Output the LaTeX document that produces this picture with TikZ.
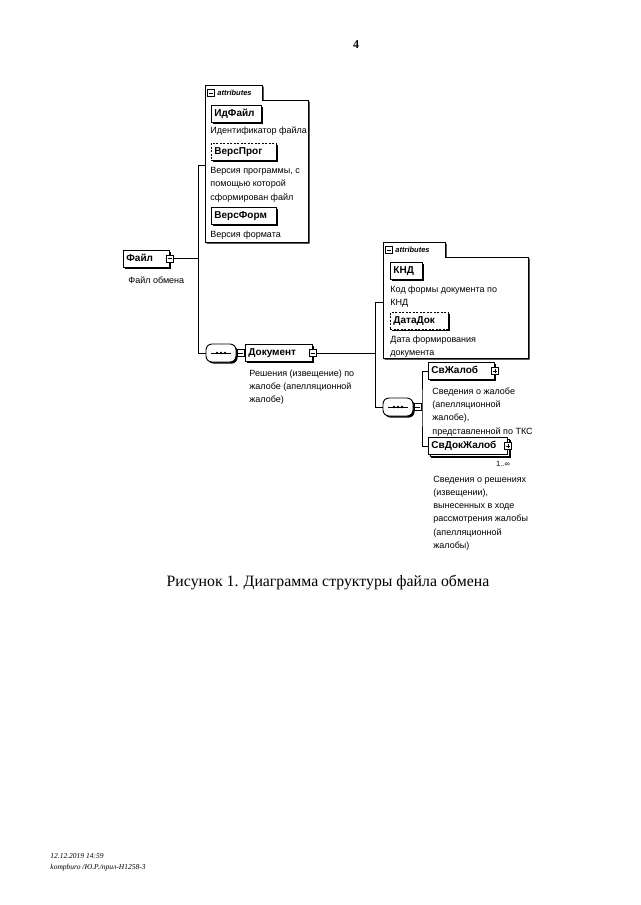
\documentclass[tikz,border=0pt]{standalone}
\usepackage{fontspec}
\setmainfont{Liberation Serif}
\setsansfont{Liberation Sans}
\usetikzlibrary{shadows}
\begin{document}
\begin{tikzpicture}[x=1pt,y=-1pt,line width=0.9pt]
  \tikzstyle{shd}=[drop shadow={shadow xshift=1.6pt,shadow yshift=-1.6pt,fill=black,opacity=1}]
  \tikzstyle{elem}=[draw,fill=white,shd,anchor=west,inner xsep=3pt,inner ysep=0pt,minimum height=17pt,
    text width=#1,text height=7.6pt,text depth=2.4pt,align=left,font=\sffamily\bfseries\fontsize{10}{11}\selectfont]
  \tikzstyle{opt}=[dashed,dash pattern=on 2pt off 1.5pt]
  \tikzstyle{desc}=[anchor=north west,inner sep=0pt,align=left,font=\sffamily\fontsize{9}{13.2}\selectfont]
  \tikzstyle{sgnminus}=[draw,fill=white,inner sep=0pt,minimum size=7pt,line width=0.7pt,
    path picture={\draw[line width=0.6pt] ([xshift=1.4pt]path picture bounding box.west) -- ([xshift=-1.4pt]path picture bounding box.east);}]
  \tikzstyle{sgnplus}=[sgnminus,
    path picture={\draw[line width=0.6pt] ([xshift=1.4pt]path picture bounding box.west) -- ([xshift=-1.4pt]path picture bounding box.east);
      \draw[line width=0.6pt] ([yshift=-1.4pt]path picture bounding box.north) -- ([yshift=1.4pt]path picture bounding box.south);}]
  \tikzstyle{seqsym}=[draw,fill=white,shd,rounded corners=6pt,minimum width=30pt,minimum height=18pt,inner sep=0pt]
  \tikzstyle{attrtab}=[font=\sffamily\bfseries\itshape\fontsize{7.5}{8}\selectfont,anchor=west,inner sep=0pt]

  \useasboundingbox[fill=white] (0,0) rectangle (640,905);

  % page number
  \node[font=\bfseries\fontsize{12}{14}\selectfont] (pagenum) at (356,45) {4};

  % attributes of Файл
  \draw[fill=white,shd] (205,242) -- (205,85) -- (262,85) -- (262,100) -- (308,100) -- (308,242) -- cycle;
  \node[sgnminus] (tabA-s) at (211,93) {};
  \node[attrtab] (tabA) at (217,93) {attributes};
  \node[elem=44pt] (idfajl) at (211,114) {ИдФайл};
  \node[desc] (idfajl-d) at (210,126.5) {Идентификатор файла};
  \node[elem=59pt,opt] (versprog) at (211,151.5) {ВерсПрог};
  \node[desc] (versprog-d) at (210,167) {Версия программы, с\\помощью которой\\сформирован файл};
  \node[elem=59pt] (versform) at (211,215.5) {ВерсФорм};
  \node[desc] (versform-d) at (210,230.5) {Версия формата};
  \coordinate (attrA) at (205,165);

  % Файл
  \node[elem=40pt] (fajl) at (123,258.5) {Файл};
  \node[sgnminus] (fajl-s) at (fajl.east) {};
  \node[desc] (fajl-d) at (128,276.5) {Файл обмена};

  % sequence -> Документ
  \node[seqsym] (seqA) at (221,353) {};
  \node[sgnminus] (seqA-s) at ([xshift=4pt]seqA.east) {};
  \node[elem=61pt] (dokument) at (245,353) {Документ};
  \node[sgnminus] (dokument-s) at (dokument.east) {};
  \node[desc] (dokument-d) at (249,369.5) {Решения (извещение) по\\жалобе (апелляционной\\жалобе)};

  % attributes of Документ
  \draw[fill=white,shd] (383,358) -- (383,242) -- (445,242) -- (445,257) -- (528,257) -- (528,358) -- cycle;
  \node[sgnminus] (tabB-s) at (389,250) {};
  \node[attrtab] (tabB) at (395,250) {attributes};
  \node[elem=26pt] (knd) at (390,271) {КНД};
  \node[desc] (knd-d) at (390,285.5) {Код формы документа по\\КНД};
  \node[elem=52pt,opt] (datadok) at (390,321) {ДатаДок};
  \node[desc] (datadok-d) at (390,335.5) {Дата формирования\\документа};
  \coordinate (attrB) at (383,302);

  % sequence -> СвЖалоб, СвДокЖалоб
  \node[seqsym] (seqB) at (398,407) {};
  \node[sgnminus] (seqB-s) at ([xshift=4pt]seqB.east) {};
  \node[elem=60pt] (svzhalob) at (428,371) {СвЖалоб};
  \node[sgnplus] (svzhalob-s) at (svzhalob.east) {};
  \node[desc] (svzhalob-d) at (432,387.5) {Сведения о жалобе\\(апелляционной\\жалобе),\\представленной по ТКС};
  \node[elem=73pt,double copy shadow={shadow xshift=1.6pt,shadow yshift=-1.6pt,fill=white,draw=black}] (svdokzhalob) at (428,446) {СвДокЖалоб};
  \node[sgnplus] (svdokzhalob-s) at (svdokzhalob.east) {};
  \node[font=\sffamily\fontsize{7.5}{8}\selectfont,inner sep=0pt] (mult) at (503,464) {1..∞};
  \node[desc] (svdokzhalob-d) at (433,475.5) {Сведения о решениях\\(извещении),\\вынесенных в ходе\\рассмотрения жалобы\\(апелляционной\\жалобы)};

  % sequence marks
  \foreach \s in {seqA,seqB} {
    \draw[line width=0.7pt] ([xshift=-10pt]\s.center) -- ([xshift=10pt]\s.center);
    \foreach \d in {-4,0,4}
      \fill ([xshift=\d pt]\s.center) circle (1.4pt);
  }

  % connectors
  \coordinate (busA) at (198,165);
  \draw (attrA) -- (busA) |- (seqA.west);
  \draw (fajl-s.east) -- (fajl-s.east -| busA);
  \draw (seqA.east) -- (seqA-s.west);
  \draw (seqA-s.east) -- (dokument.west);
  \coordinate (busB) at (375,302);
  \draw (attrB) -- (busB) |- (seqB.west);
  \draw (dokument-s.east) -- (dokument-s.east -| busB);
  \draw (seqB.east) -- (seqB-s.west);
  \coordinate (busC) at (422,407);
  \draw (seqB-s.east) -- (busC);
  \draw (svzhalob.west) -| (busC) |- (svdokzhalob.west);

  % caption
  \node[font=\fontsize{15.8}{18}\selectfont] (caption) at (328,583) {Рисунок 1. Диаграмма структуры файла обмена};

  % footer
  \node[anchor=north west,align=left,inner sep=0pt,font=\itshape\fontsize{7.5}{11}\selectfont] (footer) at (50,853)
    {12.12.2019 14:59\\kompburo /Ю.Р./прил-Н1258-3};
\end{tikzpicture}
\end{document}
